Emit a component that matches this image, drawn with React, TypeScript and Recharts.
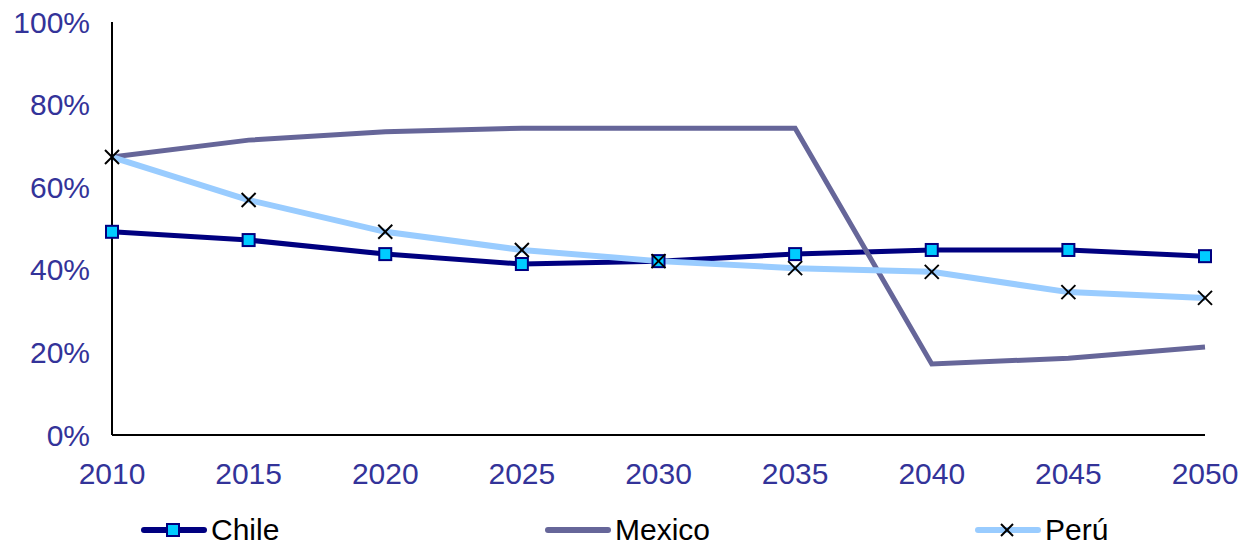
import React from "react";
import { LineChart, Line, XAxis, YAxis, Legend } from "recharts";

const years = ["2010", "2015", "2020", "2025", "2030", "2035", "2040", "2045", "2050"];
const chile = [49.2, 47.2, 43.8, 41.4, 42.1, 43.8, 44.8, 44.8, 43.3];
const mexico = [67.3, 71.4, 73.4, 74.3, 74.3, 74.3, 17.2, 18.6, 21.3];
const peru = [67.3, 56.9, 49.2, 44.8, 42.1, 40.4, 39.5, 34.6, 33.2];
const yTicks = [0, 20, 40, 60, 80, 100];

const data = years.map((year, i) => ({
  year,
  Chile: chile[i],
  Mexico: mexico[i],
  Perú: peru[i],
}));

const FONT = "'Liberation Sans', Arial, sans-serif";
const AXIS_COLOR = "#333399";

const SquareDot = (props: any) => {
  const { cx, cy } = props;
  if (cx == null || cy == null) return null;
  return (
    <rect x={cx - 6} y={cy - 6} width={12} height={12} fill="#00CCFF" stroke="#000080" strokeWidth={2} />
  );
};

const CrossDot = (props: any) => {
  const { cx, cy } = props;
  if (cx == null || cy == null) return null;
  const s = 7;
  return (
    <g stroke="#000000" strokeWidth={2}>
      <line x1={cx - s} y1={cy - s} x2={cx + s} y2={cy + s} />
      <line x1={cx - s} y1={cy + s} x2={cx + s} y2={cy - s} />
    </g>
  );
};

const legendItems = [
  { name: "Chile", color: "#000080", left: 141, marker: "square" },
  { name: "Mexico", color: "#666699", left: 545, marker: "none" },
  { name: "Perú", color: "#99CCFF", left: 975, marker: "cross" },
];

const renderLegend = () => (
  <div style={{ position: "relative", width: 1243, height: 40 }}>
    {legendItems.map((it) => (
      <div
        key={it.name}
        style={{ position: "absolute", left: it.left, top: 0, display: "flex", alignItems: "center", height: 40 }}
      >
        <svg width={66} height={20}>
          <line x1={3} y1={10} x2={63} y2={10} stroke={it.color} strokeWidth={6} strokeLinecap="round" />
          {it.marker === "square" && (
            <rect x={26} y={4} width={12} height={12} fill="#00CCFF" stroke="#000080" strokeWidth={2} />
          )}
          {it.marker === "cross" && (
            <g stroke="#000" strokeWidth={2}>
              <line x1={26} y1={4} x2={38} y2={16} />
              <line x1={26} y1={16} x2={38} y2={4} />
            </g>
          )}
        </svg>
        <span style={{ fontFamily: FONT, fontSize: 30, color: "#000", marginLeft: 4 }}>{it.name}</span>
      </div>
    ))}
  </div>
);

export default function App() {
  return (
    <div style={{ position: "absolute", left: 0, top: 0, background: "#fff" }}>
      <LineChart width={1243} height={545} data={data} margin={{ top: 22, right: 38, left: 0, bottom: 20 }}>
        <XAxis
          dataKey="year"
          height={50}
          axisLine={{ stroke: "#000", strokeWidth: 2 }}
          tickLine={false}
          tickMargin={22}
          padding={{ left: 0, right: 0 }}
          tick={{ fill: AXIS_COLOR, fontSize: 30, fontFamily: FONT }}
          interval={0}
        />
        <YAxis
          width={112}
          domain={[0, 100]}
          ticks={yTicks}
          tickFormatter={(v: number) => `${v}%`}
          axisLine={{ stroke: "#000", strokeWidth: 2 }}
          tickLine={false}
          tickMargin={16}
          tick={{ fill: AXIS_COLOR, fontSize: 30, fontFamily: FONT }}
          interval={0}
        />
        <Legend content={renderLegend} wrapperStyle={{ left: 0, top: 510, width: 1243 }} />
        <Line
          dataKey="Chile"
          stroke="#000080"
          strokeWidth={5}
          dot={<SquareDot />}
          activeDot={false}
          isAnimationActive={false}
        />
        <Line
          dataKey="Mexico"
          stroke="#666699"
          strokeWidth={5}
          dot={false}
          activeDot={false}
          isAnimationActive={false}
        />
        <Line
          dataKey="Perú"
          stroke="#99CCFF"
          strokeWidth={6}
          dot={<CrossDot />}
          activeDot={false}
          isAnimationActive={false}
        />
      </LineChart>
    </div>
  );
}
